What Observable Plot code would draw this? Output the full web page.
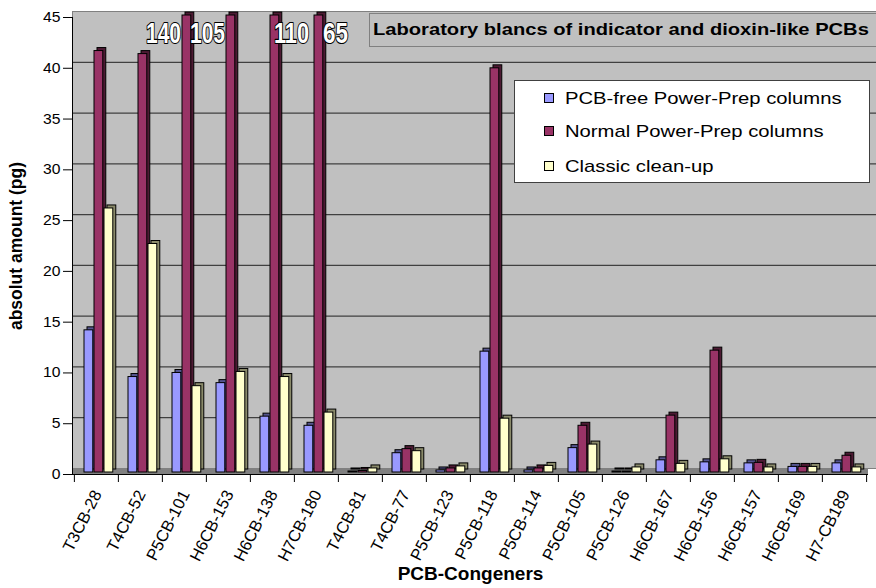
<!DOCTYPE html>
<html>
<head>
<meta charset="utf-8">
<script src="https://cdn.jsdelivr.net/npm/d3@7"></script>
<script src="https://cdn.jsdelivr.net/npm/@observablehq/plot@0.6"></script>
<style>
  html, body { margin: 0; padding: 0; background: #fff; }
  #wrap { position: relative; width: 876px; height: 588px; overflow: hidden; font-family: "Liberation Sans", Arial, sans-serif; }
  #chart svg { display: block; }
  #title { position: absolute; left: 369px; top: 13px; width: 520px; height: 34px; box-sizing: border-box;
    background: #c0c0c0; border: 1px solid #808080; font-weight: bold; font-size: 17px; line-height: 32px; padding-left: 3px; color: #000; white-space: nowrap; }
  #title span { display: inline-block; transform: scaleX(1.185); transform-origin: left center; }
  #legend { position: absolute; left: 514px; top: 80px; width: 356px; height: 103px; box-sizing: border-box;
    background: #fff; border: 1px solid #404040; }
  .item { position: absolute; left: 29px; font-size: 17px; line-height: 20px; white-space: nowrap; color: #000; }
  .item .txt { display: inline-block; transform: scaleX(1.19); transform-origin: left center; }
  .sw { display: inline-block; width: 8px; height: 8px; border: 1px solid #000; margin-right: 11px; vertical-align: 1px; }
</style>
</head>
<body>
<div id="wrap">
  <div id="chart"></div>
  <div id="title"><span>Laboratory blancs of indicator and dioxin-like PCBs</span></div>
  <div id="legend"></div>
</div>
<script>
const categories = ["T3CB-28","T4CB-52","P5CB-101","H6CB-153","H6CB-138","H7CB-180","T4CB-81","T4CB-77","P5CB-123","P5CB-118","P5CB-114","P5CB-105","P5CB-126","H6CB-167","H6CB-156","H6CB-157","H6CB-169","H7-CB189"];
const pcbFree = [14.0, 9.4, 9.8, 8.8, 5.5, 4.6, 0.1, 1.9, 0.2, 11.9, 0.2, 2.4, 0.1, 1.2, 1.0, 0.9, 0.55, 0.9];
const normal  = [41.5, 41.2, 140, 105, 110, 65, 0.15, 2.3, 0.4, 39.8, 0.4, 4.6, 0.1, 5.6, 12.0, 0.95, 0.55, 1.65];
const classic = [26.0, 22.5, 8.5, 9.9, 9.4, 5.9, 0.4, 2.1, 0.6, 5.3, 0.65, 2.75, 0.5, 0.85, 1.3, 0.5, 0.55, 0.5];
const seriesNames = ["PCB-free Power-Prep columns", "Normal Power-Prep columns", "Classic clean-up"];
const seriesColors = ["#9999ff", "#993366", "#ffffcc"];
const sideColors = ["#55558f", "#4d1a33", "#8a8a6a"];
const yTicks = [0, 5, 10, 15, 20, 25, 30, 35, 40, 45];
const yMax = 45;
const yTitle = "absolut amount (pg)";
const xTitle = "PCB-Congeners";

const width = 876, height = 588;
const mL = 72, mR = 8, mT = 15, mB = 116;
const bw = (width - mL - mR) / categories.length;

const seriesValues = [pcbFree, normal, classic];
const barMarks = [];
seriesValues.forEach((vals, s) => {
  const data = categories.map((c, i) => ({cat: c, v: vals[i]}));
  const insetLeft = 10 + s * 10;
  const insetRight = bw - (insetLeft + 9);
  barMarks.push(Plot.barY(data, {x: "cat", y: "v", insetLeft, insetRight, dx: 3, dy: -3, fill: sideColors[s], stroke: "#000", strokeWidth: 1}));
  barMarks.push(Plot.barY(data, {x: "cat", y: "v", insetLeft, insetRight, fill: seriesColors[s], stroke: "#000", strokeWidth: 1}));
});

const over = categories.map((c, i) => ({cat: c, v: normal[i]})).filter(d => d.v > yMax);
const overLeft = over.slice(0, 2), overRight = over.slice(2);
const overStrings = new Set(over.map(d => String(d.v)));
const bigText = {x: "cat", y: () => yMax, text: d => String(d.v), dy: 18, fontSize: 29, fontWeight: "bold",
  fontFamily: "'Liberation Sans', Arial, sans-serif",
  fill: "#fff", stroke: "#000", strokeWidth: 2.2, paintOrder: "stroke"};

const chart = Plot.plot({
  width, height,
  marginLeft: mL, marginRight: mR, marginTop: mT, marginBottom: mB,
  x: {domain: categories, padding: 0, axis: null},
  y: {domain: [0, yMax], clamp: true, axis: null},
  style: {fontFamily: "'Liberation Sans', Arial, sans-serif", background: "#fff", color: "#000"},
  marks: [
    Plot.frame({fill: "#c0c0c0", stroke: "#808080", dy: -4, insetRight: -8}),
    Plot.ruleY(yTicks.filter(v => v > 0 && v < yMax), {dy: -4, insetRight: -8, stroke: "#404040", strokeWidth: 1.2}),
    Plot.ruleY([0], {stroke: "#808080", strokeWidth: 6, dy: -1}),
    Plot.ruleY([0], {stroke: "#000", dy: 2}),
    Plot.frame({anchor: "left", stroke: "#000", dy: 2}),
    Plot.axisY({ticks: yTicks, tickSize: 9, tickPadding: 3, dy: 2, fontSize: 14, label: null, stroke: "#000"}),
    Plot.axisX({tickSize: 8, dy: 2, dx: -bw / 2, tickFormat: () => "", label: null}),
    Plot.axisX({ticks: [categories[categories.length - 1]], tickSize: 8, dy: 2, dx: bw / 2, tickFormat: () => "", label: null}),
    Plot.axisX({tickSize: 0, tickRotate: -63, tickPadding: 19, dx: 1, fontSize: 16.5, label: null}),
    ...barMarks,
    Plot.text(overLeft, {...bigText, dx: -21}),
    Plot.text(overRight, {...bigText, dx: 19}),
    Plot.text([yTitle], {frameAnchor: "left", textAnchor: "middle", dx: -56, dy: 2, rotate: -90, fontSize: 17.5, fontWeight: "bold", fill: "#000"}),
    Plot.text([xTitle], {frameAnchor: "bottom", dy: 107, fontSize: 19, fontWeight: "bold", fill: "#000"})
  ]
});
document.getElementById("chart").appendChild(chart);

// Emulate the horizontally widened rendering of the original's horizontal texts
const skip = new Set([...categories, yTitle, xTitle]);
d3.select(chart).selectAll("text").each(function() {
  const t = this.textContent;
  if (!t || skip.has(t)) return;
  const L = this.getComputedTextLength();
  if (!L) return;
  if (overStrings.has(t)) {
    this.setAttribute("textLength", t.length === 2 ? 25 : 35);
  } else {
    this.setAttribute("textLength", L * 1.12);
  }
  this.setAttribute("lengthAdjust", "spacingAndGlyphs");
});

const legend = document.getElementById("legend");
const rowTops = [8, 41, 76];
seriesNames.forEach((name, i) => {
  const div = document.createElement("div");
  div.className = "item";
  div.style.top = rowTops[i] + "px";
  const sw = document.createElement("span");
  sw.className = "sw";
  sw.style.background = seriesColors[i];
  div.appendChild(sw);
  const tx = document.createElement("span");
  tx.className = "txt";
  tx.textContent = name;
  div.appendChild(tx);
  legend.appendChild(div);
});
</script>
</body>
</html>
